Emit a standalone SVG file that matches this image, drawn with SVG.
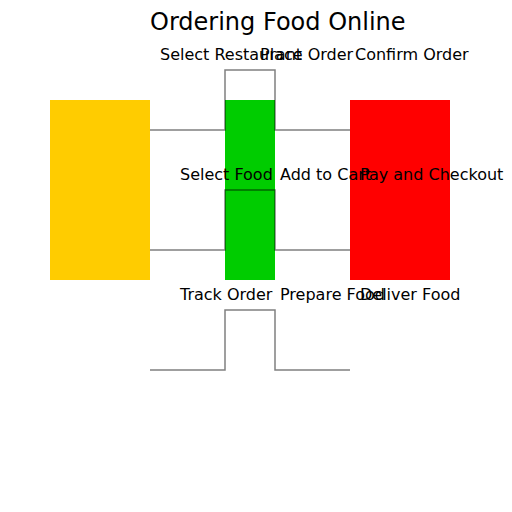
<svg xmlns="http://www.w3.org/2000/svg" width="512" height="512" viewBox="0 0 512 512">
<style>
text{font-family:"DejaVu Sans",sans-serif;fill:#000;}
.lbl{font-size:16px;}
.ttl{font-size:24px;}
.wire{fill:none;stroke:#000;stroke-opacity:0.5;stroke-width:1.5;}
</style>
<rect width="512" height="512" fill="#fff"/>
<text class="ttl" x="150" y="30">Ordering Food Online</text>
<g id="yellow"><rect x="50" y="100" width="100" height="180" fill="#ffcc00"/></g>
<g id="green"><rect x="225" y="100" width="50" height="180" fill="#00cc00"/></g>
<g id="red"><rect x="350" y="100" width="100" height="180" fill="#ff0000"/></g>
<g id="connectors">
<polyline class="wire" points="150,130 225,130 225,70 275,70 275,130 350,130"/>
<polyline class="wire" points="150,250 225,250 225,190 275,190 275,250 350,250"/>
<polyline class="wire" points="150,370 225,370 225,310 275,310 275,370 350,370"/>
</g>
<g id="labels">
<text class="lbl" x="160" y="60">Select Restaurant</text>
<text class="lbl" x="260" y="60">Place Order</text>
<text class="lbl" x="355" y="60">Confirm Order</text>
<text class="lbl" x="180" y="180">Select Food</text>
<text class="lbl" x="280" y="180">Add to Cart</text>
<text class="lbl" x="360" y="180">Pay and Checkout</text>
<text class="lbl" x="180" y="300">Track Order</text>
<text class="lbl" x="280" y="300">Prepare Food</text>
<text class="lbl" x="360" y="300">Deliver Food</text>
</g>
</svg>
